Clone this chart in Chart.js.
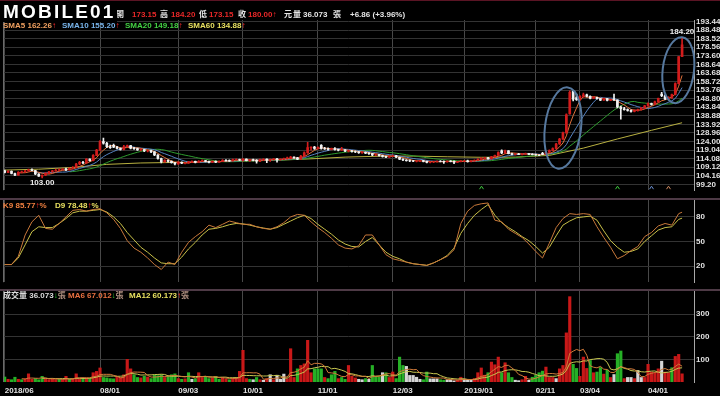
<!DOCTYPE html>
<html><head><meta charset="utf-8">
<script src="https://cdn.jsdelivr.net/npm/chart.js@4.4.1/dist/chart.umd.min.js"></script>
<style>
html,body{margin:0;padding:0;background:#000;}
body{width:720px;height:396px;position:relative;overflow:hidden;font-family:"Liberation Sans","Noto Sans CJK TC",Arial,sans-serif;}
.t{position:absolute;white-space:pre;font-weight:bold;z-index:4;}
.h{font-size:8px;top:10px;line-height:10px;color:#e6e6e6;}
.lg{font-size:8px;line-height:9px;}
.r{color:#e82828;}
.up{color:#ff2a2a;}
.dn{color:#2ed02e;}
canvas{position:absolute;left:0;z-index:1;}
#logo{position:absolute;left:3px;top:2px;font:bold 19px "Liberation Sans",Arial,sans-serif;color:#fff;letter-spacing:2.2px;z-index:6;line-height:20px;background:#000;padding-right:1px;}
.sep{position:absolute;left:0;width:720px;z-index:3;}
</style></head>
<body>
<div class="sep" style="top:0;height:1px;background:#5a1424"></div>
<div id="logo">MOBILE01</div>
<span class="t h" style="left:116px">開</span>
<span class="t h r" style="left:132px">173.15</span>
<span class="t h" style="left:160px">高</span>
<span class="t h r" style="left:171px">184.20</span>
<span class="t h" style="left:199px">低</span>
<span class="t h r" style="left:209px">173.15</span>
<span class="t h" style="left:238px">收</span>
<span class="t h r" style="left:248px">180.00↑</span>
<span class="t h" style="left:284px">元</span>
<span class="t h" style="left:293px">量</span>
<span class="t h" style="left:303px">36.073</span>
<span class="t h" style="left:333px">張</span>
<span class="t h" style="left:350px">+6.86 (+3.96%)</span>

<span class="t lg" style="left:3px;top:21px;color:#f0a060">SMA5 162.26<span class="up">↑</span></span>
<span class="t lg" style="left:62px;top:21px;color:#78b4ea">SMA10 155.20<span class="up">↑</span></span>
<span class="t lg" style="left:125px;top:21px;color:#44d044">SMA20 149.18<span class="up">↑</span></span>
<span class="t lg" style="left:188px;top:21px;color:#e8e060">SMA60 134.88<span class="up">↑</span></span>

<span class="t lg" style="left:3px;top:201px;color:#f08040">K9 85.77<span class="up">↑</span>%</span>
<span class="t lg" style="left:55px;top:201px;color:#e8e060">D9 78.48<span class="up">↑</span>%</span>

<span class="t lg" style="left:3px;top:291px;color:#dcdcdc">成交量 36.073<span class="dn">↓</span><span style="color:#b09080">張</span></span>
<span class="t lg" style="left:68px;top:291px;color:#e87040">MA6 67.012<span class="dn">↓</span><span style="color:#b09080">張</span></span>
<span class="t lg" style="left:129px;top:291px;color:#e8e060">MA12 60.173<span class="up">↑</span><span style="color:#b09080">張</span></span>

<div class="sep" style="top:198px;height:2px;background:#4e3a46"></div>
<div class="sep" style="top:289px;height:2px;background:#4e3a46"></div>

<canvas id="cp" width="720" height="185" style="top:12px"></canvas>
<canvas id="ck" width="720" height="97" style="top:192px"></canvas>
<canvas id="cv" width="720" height="113" style="top:283px"></canvas>

<script>
// ---------- DATA ----------
const monthDays = [
  ['2018/06',[22,25,26,27,28,29]],
  ['2018/07',[2,3,4,5,6,9,10,11,12,13,16,17,18,19,20,23,24,25,26,27,30,31]],
  ['2018/08',[1,2,3,6,7,8,9,10,13,14,15,16,17,20,21,22,23,24,27,28,29,30,31]],
  ['2018/09',[3,4,5,6,7,10,11,12,13,14,17,18,19,20,21,25,26,27,28]],
  ['2018/10',[1,2,3,4,5,8,9,11,12,15,16,17,18,19,22,23,24,25,26,29,30,31]],
  ['2018/11',[1,2,5,6,7,8,9,12,13,14,15,16,19,20,21,22,23,26,27,28,29,30]],
  ['2018/12',[3,4,5,6,7,10,11,12,13,14,17,18,19,20,21,22,24,25,26,27,28]],
  ['2019/01',[2,3,4,7,8,9,10,11,14,15,16,17,18,21,22,23,24,25,28,29,30]],
  ['2019/02',[11,12,13,14,15,18,19,20,21,22,25,26,27]],
  ['2019/03',[4,5,6,7,8,11,12,13,14,15,18,19,20,21,22,25,26,27,28,29]],
  ['2019/04',[1,2,3,8,9,10,11,12,15,16,17]]
];
const tickDates = ['2018/06/22','2018/08/01','2018/09/03','2018/10/01','2018/11/01','2018/12/03','2019/01/02','2019/02/11','2019/03/04','2019/04/01'];
const tickTexts = ['2018/06','08/01','09/03','10/01','11/01','12/03','2019/01','02/11','03/04','04/01'];
const priceTicks = [99.20,104.16,109.12,114.08,119.04,124.00,128.96,133.92,138.88,143.84,148.80,153.76,158.72,163.68,168.64,173.60,178.56,183.52,188.48,193.44];
const kdTicks = [20,50,80];
const volTicks = [100,200,300];

const opens = [
107.0,106.2,106.8,105.5,104.6,106.2,106.5,107.0,107.6,107.2,
105.2,104.0,104.5,105.6,106.5,107.0,107.4,107.8,108.0,107.6,
108.5,109.0,111.0,112.0,111.6,113.8,113.0,116.0,119.0,124.0,
123.0,121.0,121.8,120.8,120.0,119.4,121.0,121.6,120.2,119.9,
119.2,119.4,118.6,118.8,118.0,116.2,114.2,112.2,113.2,112.5,
111.8,111.0,112.0,111.5,111.6,112.2,112.5,112.0,112.6,113.0,
112.5,112.0,112.6,112.1,112.5,113.2,113.0,112.8,113.5,113.6,
113.3,113.8,113.0,113.4,113.2,112.6,113.5,113.8,113.2,113.6,
114.0,113.5,113.8,114.2,114.3,115.0,114.6,113.8,115.6,117.5,
120.5,120.8,120.0,121.8,120.0,119.8,119.5,119.8,119.4,119.0,
119.2,118.5,118.7,118.2,118.0,117.6,117.8,117.3,117.0,116.2,
116.5,115.9,115.4,115.0,115.5,115.8,114.9,113.8,113.3,113.0,
112.8,112.6,112.7,113.0,112.5,111.9,112.2,112.4,112.6,112.5,
112.2,112.7,112.5,112.0,112.4,112.8,112.9,112.4,112.8,113.2,
113.8,114.4,114.6,114.0,115.2,116.0,118.6,117.4,118.6,117.0,
116.5,116.8,116.6,116.9,117.0,116.6,116.4,116.2,117.2,116.6,
117.8,118.8,120.0,122.6,125.4,129.0,140.0,153.0,149.5,148.2,
150.2,151.0,150.2,149.0,149.6,148.8,148.0,148.8,147.8,148.3,
148.0,144.0,143.0,142.5,142.0,141.5,142.0,142.5,143.5,144.6,
146.0,145.5,147.0,151.5,150.5,148.7,149.5,151.2,157.5,173.15];
const highs = [
107.5,107.2,107.0,105.8,106.6,106.9,107.4,108.0,108.2,107.3,
105.5,104.8,106.0,106.8,107.3,108.0,108.2,108.4,108.6,108.8,
109.5,111.4,112.5,112.6,114.2,114.0,116.5,119.5,124.5,126.0,
123.5,122.0,122.5,121.2,120.4,121.8,122.0,121.8,120.6,120.2,
119.8,119.6,119.2,119.0,118.2,116.4,114.5,113.6,113.4,112.8,
112.0,112.4,112.2,112.0,112.6,112.8,112.7,113.0,113.4,113.2,
112.7,112.9,112.8,112.8,113.6,113.5,113.4,113.8,114.0,113.8,
114.2,114.0,113.6,113.8,113.5,113.8,114.0,114.0,113.8,114.2,
114.3,114.0,114.5,115.0,115.5,115.2,114.8,116.0,118.0,123.5,
121.0,121.2,121.0,122.2,120.6,120.4,120.2,120.5,119.6,120.6,
119.4,119.0,118.9,118.6,118.2,118.2,118.0,117.6,117.2,116.8,
116.6,116.2,115.6,115.8,116.2,116.0,115.0,114.0,113.6,113.4,
113.2,113.0,113.2,113.2,112.7,112.4,112.6,112.8,113.0,112.8,
112.9,113.0,112.8,112.6,113.0,113.2,113.3,113.0,113.4,114.0,
114.6,114.8,114.8,115.4,116.2,118.0,119.2,119.0,118.8,117.3,
117.0,117.2,117.0,117.3,117.2,117.0,116.8,116.5,117.8,118.0,
119.2,120.4,123.0,125.8,129.5,140.0,153.4,153.4,151.5,150.6,
152.0,151.5,150.5,150.0,149.8,149.0,149.2,149.0,148.6,151.5,
148.2,144.5,143.8,143.0,142.4,142.4,142.8,143.8,145.0,146.4,
146.2,147.4,149.2,152.5,151.0,150.0,151.5,158.0,173.15,184.20];
const lows = [
105.8,106.0,105.2,104.2,104.5,105.9,106.2,106.8,107.0,104.8,
103.8,103.0,104.2,105.4,106.2,106.8,107.0,107.4,107.2,107.4,
108.2,108.8,110.6,111.2,111.4,112.6,112.8,115.8,118.8,122.5,
120.5,120.0,120.5,119.8,119.0,119.2,120.6,119.8,119.5,118.8,
118.6,118.2,118.0,117.6,115.8,113.8,111.6,112.0,112.0,111.5,
110.5,110.8,111.2,111.0,111.4,111.8,111.6,111.8,112.4,112.2,
111.7,111.8,111.8,111.9,112.3,112.6,112.5,112.6,113.2,113.0,
112.6,112.8,112.5,112.8,111.5,112.4,113.0,111.8,112.5,113.2,
112.0,113.2,113.5,113.8,114.0,114.2,113.5,113.6,115.4,117.2,
119.0,119.5,119.6,119.6,119.4,119.0,119.2,119.0,118.6,118.8,
118.2,118.0,117.8,117.6,117.2,117.2,117.0,116.6,115.8,115.8,
115.6,115.0,114.6,114.8,115.2,114.6,113.5,113.0,112.6,112.4,
112.3,112.2,112.4,112.2,111.6,111.6,111.8,112.0,112.2,111.4,
112.0,112.2,111.2,111.8,112.2,112.4,112.0,112.2,112.6,113.0,
113.6,114.0,113.8,113.9,115.0,115.8,117.0,117.2,116.8,116.2,
116.2,116.4,116.2,116.5,116.4,116.2,116.0,115.8,116.4,116.5,
117.6,118.6,119.8,122.4,125.2,128.8,139.8,147.5,147.8,148.0,
149.5,149.8,148.6,148.8,148.5,147.6,147.8,147.5,147.6,147.8,
143.5,137.0,142.2,141.6,141.0,141.2,141.6,142.2,143.2,144.4,
145.0,145.2,146.8,150.0,148.2,148.2,149.0,151.0,157.4,173.15];
const closes = [
106.2,106.8,105.5,104.6,106.2,106.5,107.0,107.6,107.2,105.2,
104.0,104.5,105.6,106.5,107.0,107.4,107.8,108.0,107.6,108.5,
109.0,111.0,112.0,111.6,113.8,113.0,116.0,119.0,124.0,123.0,
121.0,120.5,120.8,120.0,119.4,121.0,121.6,120.2,119.9,119.2,
119.4,118.6,118.8,118.0,116.2,114.2,112.2,113.2,112.5,111.8,
111.0,112.0,111.5,111.6,112.2,112.5,112.0,112.6,113.0,112.5,
112.0,112.6,112.1,112.5,113.2,113.0,112.8,113.5,113.6,113.3,
113.8,113.0,113.4,113.2,112.6,113.5,113.8,113.2,113.6,114.0,
113.5,113.8,114.2,114.6,115.0,114.6,113.8,115.6,117.5,120.5,
120.8,120.0,120.6,120.0,119.8,119.5,119.8,119.4,119.0,119.2,
118.5,118.7,118.2,118.0,117.6,117.8,117.3,117.0,116.2,116.5,
115.9,115.4,115.0,115.5,115.8,114.9,113.8,113.3,113.0,112.8,
112.6,112.7,113.0,112.5,111.9,112.2,112.4,112.6,112.5,112.2,
112.7,112.5,112.0,112.4,112.8,112.9,112.4,112.8,113.2,113.8,
114.4,114.6,114.0,115.2,116.0,117.6,117.4,118.6,117.0,116.5,
116.8,116.6,116.9,117.0,116.6,116.4,116.2,116.0,116.6,117.8,
118.8,120.0,122.6,125.4,129.0,139.5,152.5,148.5,148.2,150.2,
151.0,150.2,149.0,149.6,148.8,148.0,148.8,147.8,148.3,148.0,
144.0,143.0,142.5,142.0,141.5,142.0,142.5,143.5,144.6,146.0,
145.5,147.0,149.0,150.5,148.7,149.5,151.2,157.5,173.14,180.00];
const volumes = [
22,12,10,21,12,10,14,36,12,15,
10,25,12,10,14,10,12,10,25,12,
14,36,15,14,18,15,41,47,62,20,
18,15,14,22,20,32,100,58,32,20,
18,25,22,15,30,28,32,20,28,32,
36,15,12,14,41,12,15,41,20,25,
15,18,25,12,20,12,10,15,18,47,
140,15,12,10,20,10,8,15,32,10,
30,12,35,15,147,20,58,73,80,184,
41,58,58,58,20,15,32,47,15,20,
12,73,25,18,12,10,15,12,73,25,
22,41,41,20,44,15,110,73,69,29,
29,21,12,10,44,14,14,14,10,8,
10,10,5,8,21,12,10,8,15,41,
62,30,41,88,76,110,41,85,41,20,
8,6,10,25,8,21,29,41,48,66,
20,20,15,58,73,217,377,78,60,25,
110,60,95,41,44,64,35,53,20,33,
125,137,15,20,20,15,51,20,20,78,
44,41,58,92,44,41,63,113,122,36.073];
// volume bar colour per day: r = up, g = down, w = unchanged
const volColors =
  'grggrgrrrg' + 'ggrrrrgrrg' + 'rrrgrgrrrg' + 'gggrrrrrgg' + 'rgrggggrgg' +
  'grgrgwgrrg' + 'grggrrgrrr' + 'rrgwgrwrwr' + 'wwwrrrgrrr' + 'rgggrgggrg' +
  'grrrwwgwgg' + 'gwgrrgggww' + 'wwwggwwwgg' + 'wwwrrwwwrr' + 'rrgrrrgrgg' +
  'wwrrwggggr' + 'rrwrrrrggr' + 'rrgrggrgrw' + 'ggrwwrwwrr' + 'rrrwrrgrrr';
// K9 / D9 read every 2 trading days; final point = last day
const kRead = [22,22,32,58,74,82,66,65,72,80, 88,89,87,89,90,85,77,66,51,42,
  37,30,22,16,25,22,37,49,56,62, 70,67,71,75,73,71,71,68,66,65,
  68,73,80,83,82,74,67,61,54,46, 42,41,45,58,58,46,34,29,27,25,
  23,22,21,24,28,32,40,72,87,94, 96,97,76,74,65,60,55,47,38,30,
  48,67,78,84,83,84,83,68,55,43, 29,33,39,44,56,61,69,72,70,84, 85.77];
const dRead = [22,22,30,46,62,68,67,67,72,78, 85,87,87,88,89,86,80,72,61,52,
  43,37,30,24,23,23,31,41,49,58, 65,66,68,70.5,72,71.5,70,68,66.5,65,
  67,71,75,79,82,78,71,65,59,52, 47,44,43.5,50,55,46,37,32,29,25,
  23,22,21,24,28,33,42,60,72,82, 89,95,82,73,67,62,56,51,44,36,
  43,57,70,75,79,80,81,76,63,51, 43,37,38,41,50,57,64,67,68,77, 78.48];
// SMA60 read every 10 trading days; final point = last day
const sma60Read = [107.5,108.0,109.0,110.8,111.6,111.9,112.2,112.8,113.2,114.0,
  115.0,115.5,115.6,115.2,114.9,115.0,116.0,120.2,125.5,130.5,134.88];
const markerDates = ['2019/01/09','2019/03/19','2019/04/02','2019/04/11'];
const markerColors = ['#3cc83c','#3cc83c','#6a8fd0','#d08a60'];

// ---------- BUILD ----------
const FONT = '"Liberation Sans","Noto Sans CJK TC",Arial,sans-serif';
Chart.defaults.font.family = FONT;
const dates = [];
monthDays.forEach(([m, ds]) => ds.forEach(d => dates.push(m + '/' + String(d).padStart(2,'0'))));
const labels = dates.concat(['','','']);
const N = dates.length;

function sma(arr, n){ return arr.map((_,i)=> i<n-1 ? null : arr.slice(i-n+1,i+1).reduce((a,b)=>a+b,0)/n); }
function sparse(vals, step){ return vals.map((v,j)=>({x: dates[Math.min(j*step, N-1)], y: v})); }

const RED='#d21c1c', WHITE='#f2f2f2';
const candleCol = closes.map((c,i)=> c >= opens[i] ? RED : WHITE);
const vc = {r:'#c81818', g:'#26b026', w:'#d4d4d4'};
const volCol = volumes.map((_,i)=> vc[volColors[i]] || vc.r);

function xScale(show){
  return {
    type:'category', offset:true,
    grid:{offset:false, color:'#484848', lineWidth:1, drawTicks:false},
    border:{display:false},
    ticks:{display:show, autoSkip:false, maxRotation:0, minRotation:0, align:'start', padding:4,
      color:'#e2e2e2', font:{size:8, weight:'bold', family:FONT},
      callback:(v)=>{ const k = tickDates.indexOf(labels[v]); return k>=0 ? tickTexts[k] : ''; }},
    afterBuildTicks: ax => { ax.ticks = ax.ticks.filter(t => tickDates.includes(labels[t.value])); },
    afterFit: ax => { ax.height = show ? 14 : 0; }
  };
}
function yScale(min, max, ticks, fmt){
  return {
    position:'right', min, max,
    grid:{color:'#333333', drawTicks:false, lineWidth:1},
    border:{display:true, color:'#a8a8a8'},
    ticks:{color:'#e2e2e2', padding:2, autoSkip:false, font:{size:8, weight:'bold', family:FONT}, callback: fmt},
    afterBuildTicks: ax => { ax.ticks = ticks.map(v=>({value:v})); },
    afterFit: ax => { ax.width = 26; }
  };
}
const leftEdge = { id:'leftEdge', afterDraw(chart){
  const {ctx, chartArea:a} = chart;
  ctx.save(); ctx.strokeStyle='#6a6a6a'; ctx.lineWidth=1;
  ctx.beginPath(); ctx.moveTo(a.left+0.5, a.top); ctx.lineTo(a.left+0.5, a.bottom); ctx.stroke();
  ctx.restore();
}};
const extremes = { id:'extremes', afterDatasetsDraw(chart){
  const {ctx} = chart, x = chart.scales.x, y = chart.scales.y;
  let hi=0, lo=0;
  highs.forEach((v,i)=>{ if(v>highs[hi]) hi=i; });
  lows.forEach((v,i)=>{ if(v<lows[lo]) lo=i; });
  ctx.save(); ctx.font='bold 8px '+FONT; ctx.fillStyle='#ececec'; ctx.textAlign='center';
  ctx.textBaseline='bottom'; ctx.fillText(highs[hi].toFixed(2), x.getPixelForValue(hi), y.getPixelForValue(highs[hi])-2);
  ctx.textBaseline='top'; ctx.fillText(lows[lo].toFixed(2), x.getPixelForValue(lo), y.getPixelForValue(lows[lo])+1);
  ctx.restore();
}};
const ellipseNotes = [
  {at:164, price:131.8, rBars:5.3, rPrice:23.7, rot:0.12},
  {at:197.9, price:165.3, rBars:4.6, rPrice:19.2, rot:0.12}
];
const ellipses = { id:'ellipses', afterDatasetsDraw(chart){
  const {ctx} = chart, x = chart.scales.x, y = chart.scales.y;
  const bw = x.getPixelForValue(1) - x.getPixelForValue(0);
  ctx.save(); ctx.strokeStyle='#56789e'; ctx.lineWidth=2;
  ellipseNotes.forEach(e=>{
    const cx = x.getPixelForValue(e.at), cy = y.getPixelForValue(e.price);
    const ry = y.getPixelForValue(e.price - e.rPrice) - cy;
    ctx.beginPath(); ctx.ellipse(cx, cy, e.rBars*bw, ry, e.rot, 0, Math.PI*2); ctx.stroke();
  });
  ctx.restore();
}};
const markers = { id:'markers', afterDatasetsDraw(chart){
  const {ctx, chartArea:a} = chart, x = chart.scales.x;
  ctx.save(); ctx.lineWidth=1;
  markerDates.forEach((d,k)=>{
    const px = Math.round(x.getPixelForValue(dates.indexOf(d)))+0.5, b = a.bottom-1;
    ctx.strokeStyle = markerColors[k];
    ctx.beginPath(); ctx.moveTo(px-2, b); ctx.lineTo(px, b-3); ctx.lineTo(px+2, b); ctx.stroke();
  });
  ctx.restore();
}};

function line(data, color, order){
  return {type:'line', data, borderColor:color, borderWidth:1, pointRadius:0, spanGaps:true, tension:0, order};
}
function mk(id, datasets, scales, plugins, padTop){
  return new Chart(document.getElementById(id), {
    type:'bar',
    data:{labels, datasets},
    options:{responsive:false, animation:false, devicePixelRatio:1, events:[],
      layout:{padding:{left:3, right:0, top:padTop, bottom:0}},
      plugins:{legend:{display:false}, tooltip:{enabled:false}},
      scales},
    plugins});
}

// Price panel
mk('cp', [
  line(sma(closes,5), '#e0703a', 3),
  line(sma(closes,10), '#5582c0', 4),
  line(sma(closes,20), '#2e9a2e', 5),
  line(sparse(sma60Read,10), '#b8b040', 6),
  {type:'bar', data: lows.map((l,i)=>[l, highs[i]]), backgroundColor:candleCol, barThickness:1, grouped:false, order:2},
  {type:'bar', data: opens.map((o,i)=>[o, closes[i]]), backgroundColor:candleCol, barThickness:2, grouped:false, order:1}
], {x:xScale(false), y:yScale(95.85, 194.33, priceTicks, v=>v.toFixed(2))}, [leftEdge, extremes, ellipses, markers], 8);

// KD panel
mk('ck', [
  line(sparse(kRead,2), '#c8783a', 1),
  line(sparse(dRead,2), '#c8c048', 2)
], {x:xScale(false), y:yScale(0.5, 100.6, kdTicks, v=>String(v))}, [leftEdge], 8);

// Volume panel
mk('cv', [
  line(sma(volumes,6), '#d07a3a', 1),
  line(sma(volumes,12), '#c8c850', 2),
  {type:'bar', data: volumes, backgroundColor: volCol, barThickness:2.5, grouped:false, order:3}
], {x:xScale(true), y:yScale(0, 402, volTicks, v=>String(v))}, [leftEdge], 8);
</script>
</body></html>
